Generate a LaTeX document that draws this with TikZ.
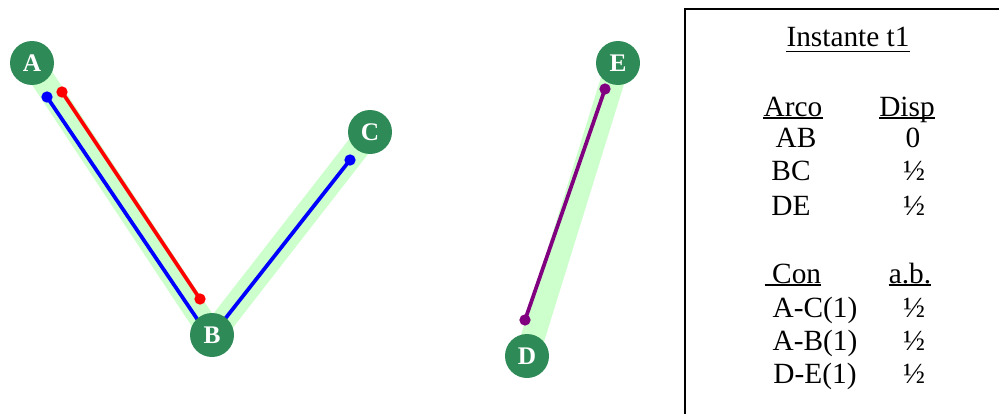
\documentclass[tikz,border=0pt]{standalone}
\usepackage{fontspec}
\setmainfont{Liberation Serif}
\definecolor{nodegreen}{RGB}{46,139,87}
\definecolor{band}{RGB}{204,255,204}
\definecolor{pathblue}{RGB}{0,0,255}
\definecolor{pathred}{RGB}{255,0,0}
\definecolor{pathpurple}{RGB}{128,0,128}
\begin{document}
\begin{tikzpicture}[x=0.75pt,y=-0.75pt,
  vert/.style={circle,fill=nodegreen,minimum size=33pt,inner sep=0pt,text=white,font=\bfseries\fontsize{19}{19}\selectfont},
  bandline/.style={band,line width=18pt},
  flow/.style={line width=2.8pt},
  dotc/.style={circle,inner sep=0pt,minimum size=8.5pt},
  tt/.style={anchor=base,inner sep=0pt,font=\fontsize{22}{26}\selectfont},
  ul/.style={line width=0.9pt}]
\useasboundingbox (0,0) rectangle (999,414);
% node positions
\coordinate (Ap) at (32,63);
\coordinate (Bp) at (212,335);
\coordinate (Cp) at (370,132);
\coordinate (Dp) at (527,356);
\coordinate (Ep) at (618,63);
% bands
\draw[bandline] (Ap) -- (Bp) -- (Cp);
\draw[bandline] (Dp) -- (Ep);
% flows
\node[dotc,fill=pathblue] (b1) at (47,97) {};
\node[dotc,fill=pathblue] (b2) at (350,160) {};
\coordinate (bv) at (210,338);
\draw[flow,pathblue] (b1.center) -- (bv) -- (b2.center);
\node[dotc,fill=pathred] (r1) at (62,92) {};
\node[dotc,fill=pathred] (r2) at (200,299) {};
\draw[flow,pathred] (r1.center) -- (r2.center);
\node[dotc,fill=pathpurple] (p1) at (605,89) {};
\node[dotc,fill=pathpurple] (p2) at (525,320) {};
\draw[flow,pathpurple] (p1.center) -- (p2.center);
% vertices
\node[vert] (A) at (Ap) {A};
\node[vert] (B) at (Bp) {B};
\node[vert] (C) at (Cp) {C};
\node[vert] (D) at (Dp) {D};
\node[vert] (E) at (Ep) {E};
% table box
\coordinate (tr) at (999,9);
\coordinate (tl) at (685,9);
\coordinate (bl) at (685,414);
\draw[line width=1.5pt] (tr) -- (tl) -- (bl);
% table text
\node[tt] (title) at (848,46.5) {Instante t1};
\draw[ul] ([yshift=-3.5pt]title.base west) -- ([yshift=-3.5pt]title.base east);
\node[tt] (h1) at (793,116) {Arco};
\node[tt] (h2) at (907,116) {Disp};
\draw[ul] ([yshift=-1.5pt]h1.base west) -- ([yshift=-1.5pt]h1.base east);
\draw[ul] ([yshift=-1.5pt]h2.base west) -- ([yshift=-1.5pt]h2.base east);
\node[tt] (r1a) at (796,147) {AB};
\node[tt] (r1b) at (913,147) {0};
\node[tt] (r2a) at (791,180) {BC};
\node[tt] (r2b) at (914,180) {½};
\node[tt] (r3a) at (791,215) {DE};
\node[tt] (r3b) at (914,215) {½};
\node[tt] (h3) at (793,283) {\ Con};
\node[tt] (h4) at (910,283) {a.b.};
\draw[ul] ([yshift=-1.5pt]h3.base west) -- ([yshift=-1.5pt]h3.base east);
\draw[ul] ([yshift=-1.5pt]h4.base west) -- ([yshift=-1.5pt]h4.base east);
\node[tt] (c1a) at (815,317) {A-C(1)};
\node[tt] (c1b) at (914,317) {½};
\node[tt] (c2a) at (815,350) {A-B(1)};
\node[tt] (c2b) at (914,350) {½};
\node[tt] (c3a) at (815,383) {D-E(1)};
\node[tt] (c3b) at (914,383) {½};
\end{tikzpicture}
\end{document}
